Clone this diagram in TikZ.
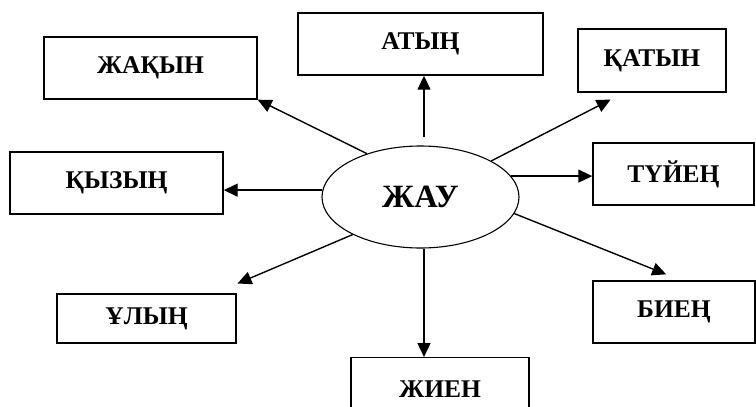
\documentclass[tikz,border=0pt]{standalone}
\usepackage{fontspec}
\setmainfont{Liberation Serif}
\usetikzlibrary{arrows.meta, shapes.geometric}

\begin{document}
\begin{tikzpicture}[x=1pt, y=-1pt,
  box/.style={rectangle, draw, line width=1.4pt, inner sep=0pt, font=\fontsize{25.5}{30}\selectfont\bfseries},
  hub/.style={ellipse, draw, line width=1.1pt, minimum width=197pt, minimum height=102pt, inner sep=0pt, font=\fontsize{32.5}{36}\selectfont\bfseries},
  link/.style={line width=1.4pt, -{Triangle[length=14pt,width=13pt]}}]
\useasboundingbox (0,0) rectangle (756,407);

\node[hub] (jau) at (420.5,197) {ЖАУ};

\node[box, minimum width=213pt, minimum height=62pt] (zhaqyn) at (150.5,68) {ЖАҚЫН};
\node[box, minimum width=245pt, minimum height=62pt] (atyn) at (420.5,44) {АТЫҢ};
\node[box, minimum width=148pt, minimum height=63pt] (qatyn) at (652,60.5) {ҚАТЫН};
\node[box, minimum width=213pt, minimum height=62pt] (qyzyn) at (116.5,183) {ҚЫЗЫҢ};
\node[box, minimum width=161pt, minimum height=62pt] (tuyen) at (673.5,174) {ТҮЙЕҢ};
\node[box, minimum width=179pt, minimum height=49pt] (ulyn) at (146.5,318.5) {ҰЛЫҢ};
\node[box, minimum width=162pt, minimum height=62pt] (biyen) at (674,312) {БИЕҢ};
\node[box, minimum width=178pt, minimum height=62pt, anchor=north] (zhiyen) at (440,357) {ЖИЕН};

\draw[link] (jau.141) -- (zhaqyn.south east);
\draw[link, shorten <=8pt] ([xshift=3.5pt]jau.north) -- ([xshift=3.5pt]atyn.south);
\draw[link, shorten >=15pt] (jau.27) -- ([xshift=-28pt]qatyn.south);
\draw[link] (jau.13) -- (jau.13 -| tuyen.west);
\draw[link] (jau.176) -- (jau.176 -| qyzyn.east);
\draw[link, shorten >=25pt] (jau.209) -- ([xshift=68pt]ulyn.north);
\draw[link] ([xshift=3.5pt]jau.south) -- ([xshift=3.5pt]jau.south |- zhiyen.north);
\draw[link, shorten >=16pt] (jau.350) -- ([xshift=7pt]biyen.north);
\end{tikzpicture}
\end{document}
